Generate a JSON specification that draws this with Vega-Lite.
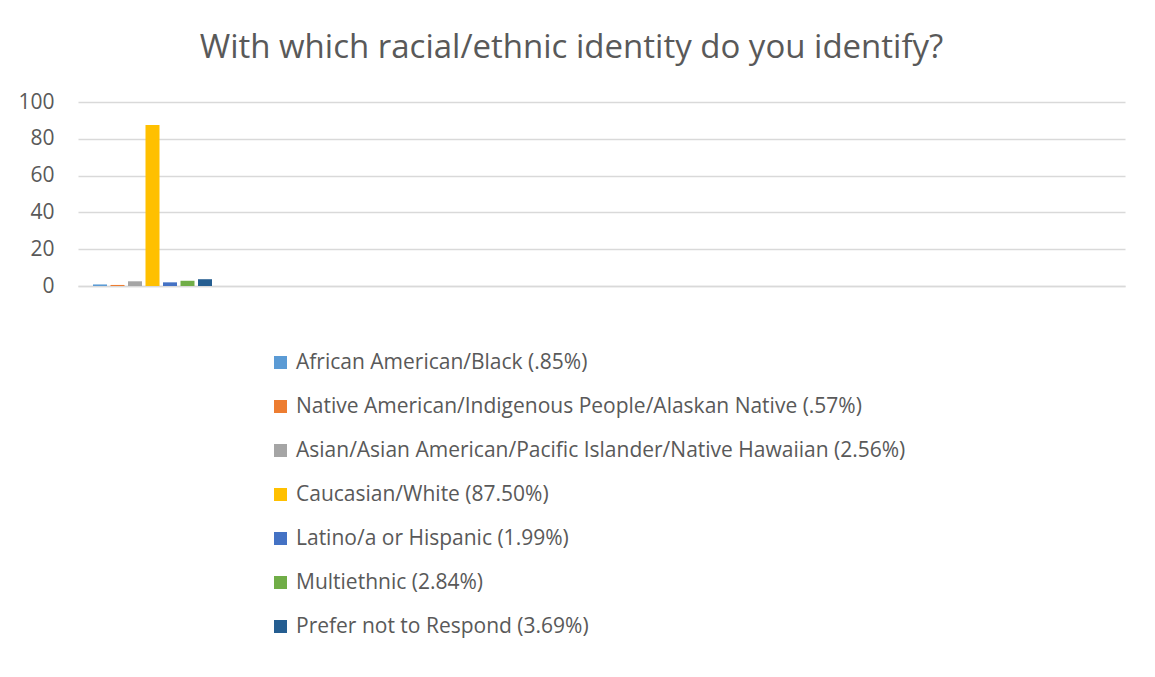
{
  "$schema": "https://vega.github.io/schema/vega-lite/v6.json",
  "autosize": "none",
  "width": 1047,
  "height": 184,
  "padding": {"left": 78, "top": 102, "right": 30, "bottom": 391},
  "background": "white",
  "title": {
    "text": "With which racial/ethnic identity do you identify?",
    "font": "Open Sans",
    "fontSize": 33,
    "fontWeight": "normal",
    "color": "#595959",
    "anchor": "middle",
    "frame": "bounds",
    "offset": 26
  },
  "config": {
    "view": {"stroke": null},
    "font": "Open Sans"
  },
  "data": {
    "values": [
      {"question": "1", "label": "African American/Black (.85%)", "pct": 0.85},
      {"question": "1", "label": "Native American/Indigenous People/Alaskan Native (.57%)", "pct": 0.57},
      {"question": "1", "label": "Asian/Asian American/Pacific Islander/Native Hawaiian (2.56%)", "pct": 2.56},
      {"question": "1", "label": "Caucasian/White (87.50%)", "pct": 87.5},
      {"question": "1", "label": "Latino/a or Hispanic (1.99%)", "pct": 1.99},
      {"question": "1", "label": "Multiethnic (2.84%)", "pct": 2.84},
      {"question": "1", "label": "Prefer not to Respond (3.69%)", "pct": 3.69}
    ]
  },
  "mark": {"type": "bar"},
  "encoding": {
    "x": {
      "field": "question",
      "type": "nominal",
      "scale": {"paddingInner": 0, "paddingOuter": 0},
      "axis": {
        "title": null,
        "labels": false,
        "ticks": false,
        "domain": true,
        "domainColor": "#d9d9d9",
        "domainWidth": 1.5
      }
    },
    "xOffset": {
      "field": "label",
      "type": "nominal",
      "sort": null,
      "scale": {"range": [15, 134], "paddingInner": 0.2, "paddingOuter": 0}
    },
    "y": {
      "field": "pct",
      "type": "quantitative",
      "scale": {"domain": [0, 100]},
      "axis": {
        "title": null,
        "values": [0, 20, 40, 60, 80, 100],
        "domain": false,
        "ticks": false,
        "grid": true,
        "gridColor": "#d9d9d9",
        "gridWidth": 1.5,
        "labelFont": "Open Sans",
        "labelFontSize": 21,
        "labelColor": "#595959",
        "labelPadding": 24
      }
    },
    "color": {
      "field": "label",
      "type": "nominal",
      "sort": null,
      "scale": {
        "domain": [
          "African American/Black (.85%)",
          "Native American/Indigenous People/Alaskan Native (.57%)",
          "Asian/Asian American/Pacific Islander/Native Hawaiian (2.56%)",
          "Caucasian/White (87.50%)",
          "Latino/a or Hispanic (1.99%)",
          "Multiethnic (2.84%)",
          "Prefer not to Respond (3.69%)"
        ],
        "range": ["#5B9BD5", "#ED7D31", "#A5A5A5", "#FFC000", "#4472C4", "#70AD47", "#255E91"]
      },
      "legend": {
        "title": null,
        "orient": "none",
        "legendX": 192,
        "legendY": 250,
        "direction": "vertical",
        "symbolType": "square",
        "symbolSize": 169,
        "symbolStrokeWidth": 0,
        "labelFont": "Open Sans",
        "labelFontSize": 21,
        "labelColor": "#595959",
        "labelLimit": 800,
        "labelOffset": 5,
        "rowPadding": 22,
        "padding": 0
      }
    }
  }
}
